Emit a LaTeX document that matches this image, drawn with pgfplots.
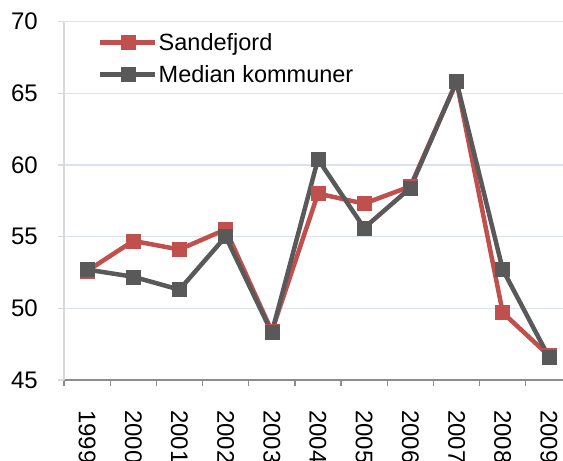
\documentclass[border=0pt]{standalone}
\usepackage{fontspec}
\setmainfont{Liberation Sans}
\usepackage{pgfplots}
\pgfplotsset{compat=1.18}
\definecolor{sred}{HTML}{C0504D}
\definecolor{sgray}{HTML}{595959}
\definecolor{gridc}{HTML}{D9E2EE}
\definecolor{yaxc}{HTML}{D9D9D9}
\definecolor{xaxc}{HTML}{8C8C8C}
\begin{document}
\begin{tikzpicture}[x=1pt,y=1pt]
\begin{axis}[
  at={(0,0)}, anchor=south west,
  scale only axis, width=508pt, height=358.5pt,
  xmin=-0.5, xmax=10.5, ymin=45, ymax=70,
  ytick={45,50,...,70},
  xtick={0,...,10},
  xticklabels={1999,2000,2001,2002,2003,2004,2005,2006,2007,2008,2009},
  minor xtick={-0.5,0.5,...,10.5},
  axis x line*=bottom, axis y line*=left,
  axis line style={-},
  x axis line style={draw=xaxc, line width=1.3pt},
  y axis line style={draw=yaxc, line width=1.3pt},
  ymajorgrids, grid style={draw=gridc, line width=1.3pt},
  tick align=outside, major tick length=6pt, minor tick length=6pt,
  every major x tick/.append style={draw=none},
  every minor x tick/.append style={draw=xaxc, line width=1.3pt},
  every major y tick/.append style={draw=yaxc, line width=1.3pt},
  /pgf/number format/assume math mode=true,
  tick label style={font=\fontsize{24}{28}\selectfont},
  yticklabel style={anchor=east, inner sep=0pt},
  yticklabel shift=20pt,
  xticklabel style={rotate=-90, anchor=west, inner sep=0pt},
  xticklabel shift=24pt,
  legend style={draw=none, fill=none, at={(0.067,0.971)}, anchor=north west,
    inner sep=0pt, row sep=11.5pt, font=\fontsize{23.5}{28}\selectfont,
    nodes={inner sep=1pt}},
  legend cell align=left,
  legend image code/.code={\draw[mark repeat=2, mark phase=2] plot coordinates {(0pt,0pt) (27.5pt,0pt) (55pt,0pt)};},
]
\addplot[sred, line width=4.5pt, mark=square*, mark size=7pt, mark options={solid, line width=0.5pt}]
  coordinates {(0,52.6) (1,54.7) (2,54.1) (3,55.5) (4,48.4) (5,58.0) (6,57.3) (7,58.5) (8,65.8) (9,49.7) (10,46.7)};
\addlegendentry{Sandefjord}
\addplot[sgray, line width=4.5pt, mark=square*, mark size=7pt, mark options={solid, line width=0.5pt}]
  coordinates {(0,52.7) (1,52.2) (2,51.3) (3,55.0) (4,48.3) (5,60.4) (6,55.6) (7,58.4) (8,65.8) (9,52.7) (10,46.6)};
\addlegendentry{Median kommuner}
\end{axis}
\pgfresetboundingbox
\path[use as bounding box] (-64,-81) rectangle (499,380);
\end{tikzpicture}
\end{document}
